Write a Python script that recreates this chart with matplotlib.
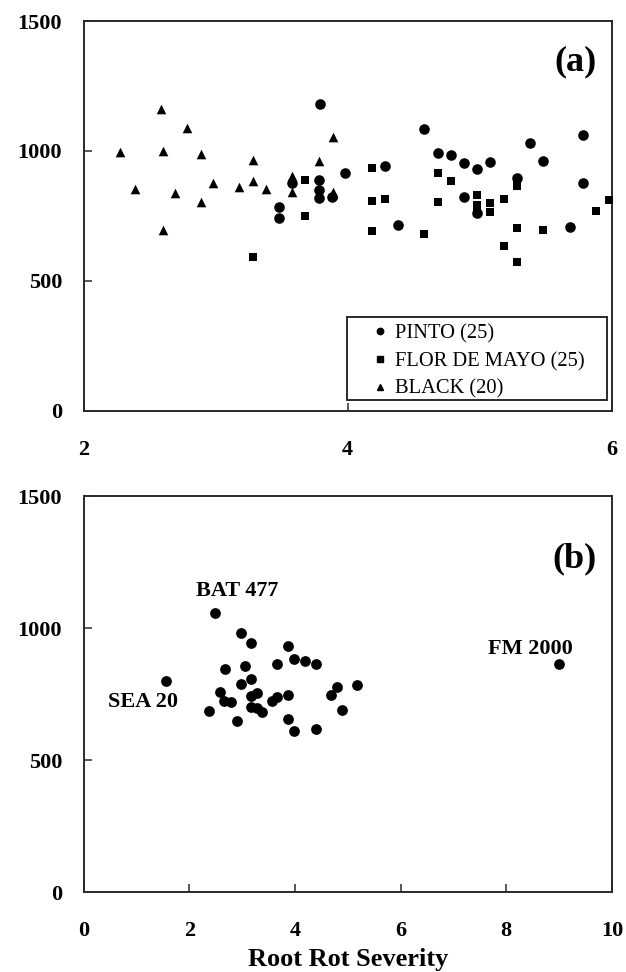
import matplotlib
matplotlib.use("Agg")
import matplotlib.pyplot as plt
from matplotlib.lines import Line2D
from matplotlib.patches import Rectangle

# Panel (a) data
pinto_x = [3.79, 3.48, 3.48, 3.58, 3.78, 3.78, 3.78, 3.88, 3.98, 4.28, 4.38, 4.58, 4.68,
           4.78, 4.88, 4.88, 4.98, 4.98, 5.08, 5.28, 5.38, 5.48, 5.68, 5.78, 5.78]
pinto_y = [1182, 785, 742, 875, 888, 849, 817, 823, 916, 942, 715, 1084, 993,
           983, 952, 821, 929, 762, 956, 894, 1030, 960, 707, 1061, 877]

flor_x = [3.28, 3.68, 3.68, 4.18, 4.18, 4.18, 4.28, 4.58, 4.68, 4.68, 4.78, 4.98, 4.98,
          5.08, 5.08, 5.18, 5.18, 5.28, 5.28, 5.28, 5.48, 5.88, 5.98, 5.28, 4.98]
flor_y = [593, 888, 749, 933, 807, 692, 816, 679, 916, 802, 884, 829, 791,
          798, 765, 816, 634, 866, 702, 571, 697, 769, 811, 890, 760]

black_x = [2.28, 2.39, 2.59, 2.60, 2.60, 2.69, 2.78, 2.89, 2.89, 2.98, 3.18, 3.28, 3.28,
           3.38, 3.58, 3.58, 3.78, 3.89, 3.89, 3.89]
black_y = [997, 853, 1161, 1001, 695, 839, 1088, 988, 802, 875, 861, 966, 885,
           853, 903, 843, 961, 1055, 843, 835]

legend_labels = ["PINTO (25)", "FLOR DE MAYO (25)", "BLACK (20)"]

# Panel (b) data
b_x = [2.48, 1.57, 2.98, 3.16, 3.87, 2.68, 3.06, 3.67, 3.98, 4.19, 4.39, 3.16, 2.98,
       2.58, 2.66, 2.79, 2.38, 3.28, 3.16, 3.16, 3.28, 3.37, 3.57, 3.67, 3.87, 2.90,
       3.87, 3.98, 4.39, 4.68, 4.79, 5.18, 4.89, 9.0]
b_y = [1056, 799, 982, 945, 932, 846, 855, 864, 882, 874, 864, 805, 786,
       756, 723, 719, 687, 755, 742, 700, 697, 683, 723, 739, 748, 646,
       655, 611, 618, 748, 778, 783, 688, 863]

labels_text = ["BAT 477", "SEA 20", "FM 2000"]
labels_x = [2.90, 1.13, 8.45]
labels_y = [1141, 721, 919]

serif = ["Liberation Serif", "DejaVu Serif"]
plt.rcParams["font.family"] = serif

W, H = 626, 972
fig = plt.figure(figsize=(W / 100, H / 100), dpi=100)
left, right = 83.5, 612
ax1 = fig.add_axes([left / W, 1 - 410.5 / H, (right - left) / W, 389.5 / H])
ax2 = fig.add_axes([left / W, 1 - 892 / H, (right - left) / W, 396 / H])

spine_col = "#2a2a2a"
for ax in (ax1, ax2):
    for s in ax.spines.values():
        s.set_linewidth(1.4)
        s.set_color(spine_col)
    ax.tick_params(direction="in", length=5.5, width=1.1, color=spine_col, labelsize=16)
    ax.tick_params(axis="x", pad=21)
    ax.tick_params(axis="y", pad=15.5)
    ax.set_ylim(0, 1500)
    ax.set_yticks([0, 500, 1000, 1500])

ax1.scatter(pinto_x, pinto_y, marker="o", s=58, color="black", linewidths=0, zorder=3)
ax1.scatter(flor_x, flor_y, marker="s", s=30, color="black", linewidths=0, zorder=3)
ax1.scatter(black_x, black_y, marker="^", s=48, color="black", linewidths=0, zorder=3)
ax1.set_xlim(2, 6)
ax1.set_xticks([2, 4, 6])
ax1.text(0.970, 0.895, "(a)", transform=ax1.transAxes, ha="right", va="center",
         fontsize=26, fontweight="bold")

# legend frame and entries
ax1.add_patch(Rectangle((0.499, 0.027), 0.491, 0.212, transform=ax1.transAxes,
                        fill=False, edgecolor=spine_col, linewidth=1.4, zorder=4))
handles = [
    Line2D([], [], marker="o", linestyle="none", color="black", markersize=4.6),
    Line2D([], [], marker="s", linestyle="none", color="black", markersize=3.8),
    Line2D([], [], marker="^", linestyle="none", color="black", markersize=4.8),
]
ax1.legend(handles, legend_labels, loc="upper left", bbox_to_anchor=(0.538, 0.2225),
           frameon=False, fontsize=14.8, borderpad=0, borderaxespad=0,
           handlelength=1.2, handletextpad=0.1, labelspacing=0.41)

ax2.scatter(b_x, b_y, marker="o", s=60, color="black", linewidths=0, zorder=3)
for t, x, y in zip(labels_text, labels_x, labels_y):
    ax2.text(x, y, t, ha="center", va="center", fontsize=16, fontweight="bold")
ax2.set_xlim(0, 10)
ax2.set_xticks([0, 2, 4, 6, 8, 10])
ax2.text(0.970, 0.841, "(b)", transform=ax2.transAxes, ha="right", va="center",
         fontsize=26, fontweight="bold")

for ax in (ax1, ax2):
    for lab in ax.get_xticklabels() + ax.get_yticklabels():
        lab.set_fontweight("bold")

fig.text((left + right) / 2 / W, (H - 966) / H, "Root Rot Severity", ha="center",
         va="baseline", fontsize=19, fontweight="bold")

fig.savefig("out.png", dpi=100)
